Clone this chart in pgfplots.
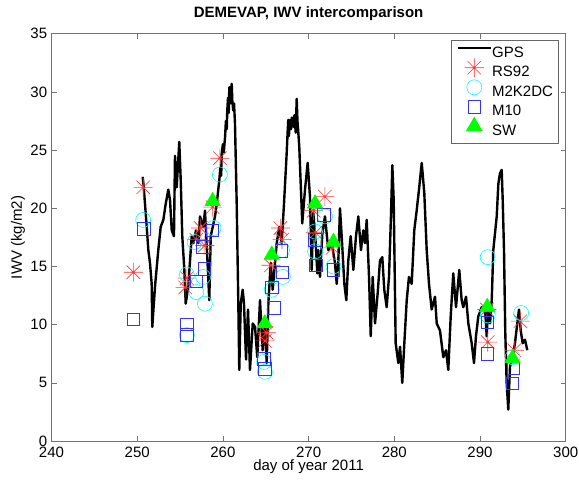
\documentclass[border=0pt]{standalone}
\usepackage{fontspec}
\setmainfont{Liberation Sans}
\usepackage{pgfplots}
\pgfplotsset{compat=1.18}

% MATLAB-like '*' marker: eight arms
\pgfdeclareplotmark{mstar}{%
  \pgfpathmoveto{\pgfqpoint{-\pgfplotmarksize}{0pt}}%
  \pgfpathlineto{\pgfqpoint{\pgfplotmarksize}{0pt}}%
  \pgfpathmoveto{\pgfqpoint{0pt}{-\pgfplotmarksize}}%
  \pgfpathlineto{\pgfqpoint{0pt}{\pgfplotmarksize}}%
  \pgfpathmoveto{\pgfqpoint{-0.7071\pgfplotmarksize}{-0.7071\pgfplotmarksize}}%
  \pgfpathlineto{\pgfqpoint{0.7071\pgfplotmarksize}{0.7071\pgfplotmarksize}}%
  \pgfpathmoveto{\pgfqpoint{-0.7071\pgfplotmarksize}{0.7071\pgfplotmarksize}}%
  \pgfpathlineto{\pgfqpoint{0.7071\pgfplotmarksize}{-0.7071\pgfplotmarksize}}%
  \pgfusepathqstroke}

\definecolor{mred}{rgb}{1,0.2,0.2}
\definecolor{mcyan}{rgb}{0,1,1}
\definecolor{mblue}{rgb}{0.2,0.2,1}
\definecolor{mgreen}{rgb}{0,1,0}

\newcommand{\mfont}{\fontsize{15bp}{18bp}\selectfont}

\begin{document}
\begin{tikzpicture}
\begin{axis}[
  scale only axis,
  width=514.2bp, height=407.3bp,
  xmin=240, xmax=300, ymin=0, ymax=35,
  xtick={240,250,...,300}, ytick={0,5,...,35},
  tick align=inside, major tick length=5bp,
  axis line style={black!55, line width=0.7bp},
  tick style={black!55, line width=0.6bp},
  /pgf/number format/assume math mode=true,
  /pgf/number format/1000 sep={},
  ticklabel style={font=\mfont},
  yticklabel style={inner sep=0pt, xshift=-4.2bp},
  xticklabel style={inner sep=0pt, yshift=-5.5bp},
  xlabel={day of year 2011},
  ylabel={IWV (kg/m2)},
  label style={font=\mfont},
  xlabel style={at={(axis description cs:0.5,-0.0638)}, anchor=center},
  ylabel style={at={(axis description cs:-0.0651,0.5)}, anchor=center},
  every axis title shift=0pt,
  title={\textbf{DEMEVAP, IWV intercomparison}},
  title style={font=\mfont, at={(axis description cs:0.5,1.0484)}, anchor=center},
  legend cell align=left,
  legend style={at={(1,1)}, anchor=north east, xshift=-7.4bp, yshift=-6.3bp,
    draw=black!60, line width=0.6bp, fill=white, font=\mfont,
    inner xsep=5bp, inner ysep=6bp, row sep=6.5bp,
    nodes={inner sep=0pt, text height=11bp, text depth=2bp},
    /tikz/every even column/.append style={column sep=4bp}},
  legend image code/.code={%
    \draw[overlay, mark repeat=2, mark phase=2, #1] plot coordinates {(0bp,4.5bp) (16.7bp,4.5bp) (33.4bp,4.5bp)};
    \path (0bp,0bp) (33.4bp,0bp);},
]
% GPS
\addplot[black, line width=2.4bp, line join=round] table {
250.64 22.7
250.74 22.0
250.91 20.4
251.11 18.4
251.30 16.4
251.49 15.3
251.69 13.5
251.76 9.8
252.08 13.3
252.46 16.4
252.74 18.4
253.05 19.0
253.33 20.4
253.63 21.6
253.83 20.7
254.03 18.1
254.29 17.6
254.41 24.5
254.61 21.8
254.91 25.7
255.08 22.4
255.26 17.6
255.50 14.7
255.66 11.8
255.96 13.3
256.36 17.6
256.55 17.0
256.86 18.1
257.13 17.0
257.33 19.3
257.71 18.4
257.91 19.8
258.18 15.8
258.41 12.1
258.58 17.6
259.08 19.3
259.28 20.4
259.58 22.4
259.70 23.5
259.80 22.8
259.86 24.7
260.00 25.5
260.10 24.8
260.25 26.1
260.35 27.5
260.45 26.8
260.51 28.4
260.60 29.5
260.68 28.2
260.75 30.4
260.85 29.0
260.95 30.2
261.03 30.7
261.10 29.2
261.21 28.4
261.30 29.0
261.41 27.3
261.61 20.4
261.80 11.8
261.91 6.1
262.08 11.8
262.31 13.0
262.46 11.8
262.70 7.0
262.93 11.3
263.16 6.1
263.48 10.1
263.75 9.8
264.01 7.2
264.33 12.1
264.64 7.8
264.91 10.1
265.11 6.7
265.30 11.8
265.58 15.3
265.81 13.0
266.08 15.3
266.28 17.0
266.58 18.4
266.86 17.0
267.13 20.4
267.44 24.7
267.55 26.5
267.63 27.6
267.70 26.2
267.83 27.6
267.95 26.8
268.05 27.8
268.22 27.0
268.35 28.0
268.50 26.5
268.61 29.4
268.70 27.5
268.80 26.5
268.91 25.3
269.26 18.7
269.58 21.6
269.89 23.9
270.16 21.0
270.36 14.7
270.55 19.6
270.83 17.0
271.02 14.4
271.13 16.4
271.33 14.1
271.60 17.8
271.91 19.3
272.30 16.4
272.70 17.0
273.08 15.3
273.28 13.5
273.47 15.5
273.66 20.0
273.86 17.6
274.17 13.5
274.40 12.1
274.63 15.5
274.91 17.6
275.22 14.7
275.53 17.6
275.80 19.3
276.11 16.4
276.38 18.1
276.58 17.0
276.78 19.0
277.05 14.1
277.25 9.0
277.48 14.1
277.75 10.1
278.06 12.7
278.33 15.5
278.60 15.8
278.83 13.0
279.11 11.5
279.38 14.1
279.61 19.3
279.77 23.7
279.93 20.7
280.16 8.4
280.47 6.7
280.67 8.1
280.93 5.0
281.17 8.4
281.45 12.1
281.71 14.1
282.03 13.5
282.33 18.1
282.61 19.8
282.88 21.6
283.20 23.9
283.50 21.3
283.78 16.4
284.05 13.5
284.36 11.3
284.75 12.4
284.95 10.1
285.33 9.5
285.72 7.2
286.03 7.8
286.30 6.1
286.58 10.7
286.88 14.4
287.20 11.5
287.58 14.7
287.86 12.1
288.05 11.5
288.37 12.4
288.64 10.1
289.03 8.4
289.30 6.7
289.53 9.0
289.80 10.7
290.20 11.5
290.58 11.5
290.78 9.0
290.97 11.8
291.17 10.1
291.37 12.1
291.55 16.4
291.95 19.3
292.14 22.1
292.33 23.0
292.53 23.3
292.65 20.7
292.80 16.4
292.95 9.3
293.11 5.0
293.30 2.7
293.50 6.4
293.82 7.2
294.08 8.4
294.35 10.1
294.55 11.3
294.75 9.5
294.98 8.4
295.25 8.7
295.52 7.8
};
\addlegendentry{GPS}
% RS92
\addplot[only marks, mark=mstar, mark size=9.5bp, color=mred, line width=0.6bp, mark options={draw=mred}] table {
249.55 14.5
250.70 21.8
255.60 13.2
255.80 14.0
256.90 17.3
257.40 18.3
257.90 16.8
258.80 20.1
259.65 24.3
264.90 8.6
265.10 9.3
265.60 15.1
266.70 18.3
266.90 17.3
270.60 19.8
270.80 17.9
271.90 21.0
272.80 16.6
290.80 11.3
290.90 8.5
294.00 7.8
294.70 10.3
};
\addlegendentry{RS92}
% M2K2DC
\addplot[only marks, mark=o, mark size=7.5bp, color=mcyan, line width=0.6bp, mark options={draw=mcyan}] table {
250.70 19.0
255.80 14.3
255.80 9.1
256.70 17.1
256.90 12.8
257.70 14.1
257.90 11.8
258.90 18.3
259.65 22.9
264.80 6.8
264.90 5.95
265.70 13.0
266.90 16.4
267.00 14.1
270.75 18.0
270.75 16.3
271.90 19.3
272.90 15.0
290.90 15.8
290.90 10.8
293.80 7.2
294.80 11.0
};
\addlegendentry{M2K2DC}
% M10
\addplot[only marks, mark=square, mark size=6.3bp, color=mblue, line width=0.9bp, mark options={draw=mblue}] table {
249.55 10.45
250.80 18.2
255.80 10.0
255.80 9.1
256.90 13.7
257.70 16.7
257.85 14.8
258.80 18.1
264.80 7.05
264.90 6.2
265.75 13.2
265.95 11.45
266.85 16.35
266.95 14.5
270.75 17.3
270.85 15.1
271.80 19.4
272.90 14.7
290.85 10.2
290.85 7.5
293.80 4.95
293.90 6.25
};
\addlegendentry{M10}
% SW
\addplot[only marks, mark=triangle*, mark size=9bp, color=mgreen, mark options={fill=mgreen, draw=mgreen}] table {
258.80 20.6
264.90 10.1
265.70 16.0
270.75 20.4
272.90 17.1
290.85 11.5
293.80 7.1
};
\addlegendentry{SW}
\end{axis}
\pgfresetboundingbox
\path ([shift={(-51.5bp,-41bp)}]current axis.south west) rectangle ([shift={(13.3bp,33.7bp)}]current axis.north east);
\end{tikzpicture}
\end{document}
